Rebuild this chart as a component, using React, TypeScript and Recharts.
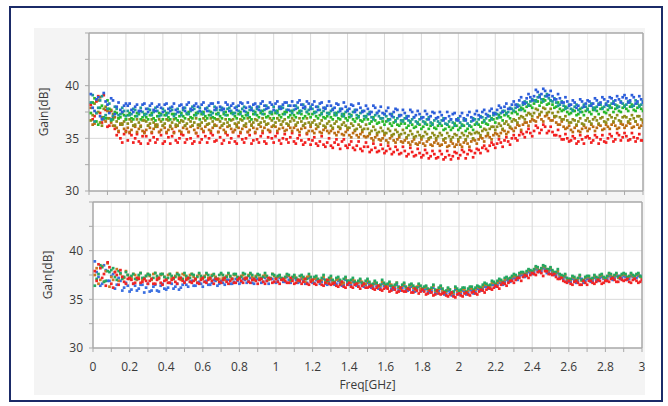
import React from "react";
import {
  ScatterChart,
  Scatter,
  XAxis,
  YAxis,
  CartesianGrid,
  ReferenceLine,
} from "recharts";

// Frequency sweep grids (GHz): sweep A starts at 0.01, sweep B at 0.02, both every 0.02 GHz
const SWEEP_A_START = 0.01;
const SWEEP_B_START = 0.02;
const SWEEP_STEP = 0.02;

const X_TICKS = [
  0, 0.1, 0.2, 0.3, 0.4, 0.5, 0.6, 0.7, 0.8, 0.9, 1, 1.1, 1.2, 1.3, 1.4, 1.5,
  1.6, 1.7, 1.8, 1.9, 2, 2.1, 2.2, 2.3, 2.4, 2.5, 2.6, 2.7, 2.8, 2.9, 3,
];
const X_LABELS = [0, 0.2, 0.4, 0.6, 0.8, 1, 1.2, 1.4, 1.6, 1.8, 2, 2.2, 2.4, 2.6, 2.8, 3];
const X_MINOR = [0.1, 0.3, 0.5, 0.7, 0.9, 1.1, 1.3, 1.5, 1.7, 1.9, 2.1, 2.3, 2.5, 2.7, 2.9];
const X_MAJOR = [0.2, 0.4, 0.6, 0.8, 1, 1.2, 1.4, 1.6, 1.8, 2, 2.2, 2.4, 2.6, 2.8];
const Y_TICKS = [30, 32.5, 35, 37.5, 40, 42.5, 45];
const Y_LABELS = [30, 35, 40];
const Y_MINOR = [32.5, 37.5, 42.5];
const Y_MAJOR = [35, 40];

// ================= Upper panel: gain [dB] =================
const TOP_BLUE_A = [
  39.2, 37.6, 38.9, 36.8, 38.5, 37.4, 38.6, 38.0, 37.7, 38.1,
  38.1, 37.7, 38.0, 37.6, 38.2, 37.8, 38.1, 37.7, 38.0, 37.9,
  38.2, 37.8, 38.0, 37.7, 38.1, 37.9, 38.2, 37.8, 38.1, 38.0,
  38.2, 37.8, 38.1, 38.3, 37.9, 38.0, 37.8, 38.2, 38.1, 37.9,
  38.1, 38.3, 37.9, 38.0, 38.2, 38.0, 38.3, 38.1, 37.9, 38.2,
  38.3, 38.0, 38.2, 38.4, 38.1, 38.1, 38.4, 38.2, 38.0, 38.3,
  38.2, 38.0, 38.3, 37.9, 38.1, 38.1, 37.9, 38.2, 37.8, 38.0,
  37.8, 38.1, 37.7, 37.9, 37.6, 37.8, 37.5, 37.9, 37.6, 37.4,
  37.6, 37.3, 37.5, 37.7, 37.2, 37.4, 37.1, 37.5, 37.2, 37.3,
  37.0, 37.3, 37.1, 37.4, 37.0, 37.2, 36.9, 37.1, 37.3, 36.8,
  37.1, 36.9, 37.2, 37.0, 37.3, 37.2, 37.5, 37.3, 37.6, 37.4,
  37.7, 37.9, 38.0, 37.8, 38.2, 38.2, 38.6, 38.4, 38.8, 38.9,
  39.0, 39.4, 39.2, 39.5, 39.1, 39.0, 38.7, 38.8, 38.4, 38.5,
  38.2, 38.4, 38.1, 38.5, 38.3, 38.5, 38.3, 38.6, 38.4, 38.7,
  38.5, 38.8, 38.6, 38.7, 38.9, 38.8, 38.6, 38.9, 38.5, 38.7,
];
const TOP_BLUE_B = [
  37.9, 38.7, 37.1, 39.3, 38.2, 38.8, 37.3, 38.4, 37.5, 38.3,
  38.3, 37.5, 38.2, 37.6, 38.3, 37.5, 38.3, 37.6, 38.2, 37.5,
  38.3, 37.6, 38.3, 37.5, 38.2, 37.6, 38.4, 37.7, 38.3, 37.6,
  38.4, 37.6, 38.3, 37.7, 38.4, 37.7, 38.4, 37.6, 38.3, 37.7,
  38.4, 37.6, 38.4, 37.7, 38.3, 37.7, 38.5, 37.8, 38.4, 37.7,
  38.5, 37.8, 38.4, 37.7, 38.5, 37.8, 38.6, 37.9, 38.5, 37.8,
  38.5, 37.7, 38.4, 37.8, 38.5, 37.7, 38.3, 37.6, 38.4, 37.6,
  38.2, 37.5, 38.3, 37.5, 38.1, 37.3, 38.1, 37.4, 38.0, 37.3,
  37.9, 37.1, 37.8, 37.1, 37.7, 36.9, 37.7, 37.0, 37.6, 36.9,
  37.6, 36.8, 37.5, 36.9, 37.5, 36.7, 37.5, 36.8, 37.4, 36.7,
  37.4, 36.7, 37.5, 36.7, 37.6, 37.0, 37.7, 37.1, 37.8, 37.3,
  38.1, 37.5, 38.3, 37.8, 38.5, 38.0, 38.9, 38.3, 39.2, 38.6,
  39.6, 38.9, 39.7, 39.0, 39.5, 38.7, 39.2, 38.4, 38.9, 38.1,
  38.6, 37.9, 38.7, 38.0, 38.6, 38.1, 38.8, 38.2, 38.9, 38.2,
  38.9, 38.3, 39.0, 38.4, 39.1, 38.4, 39.1, 38.3, 39.0, 38.4,
];
const TOP_TEAL_A = [
  38.4, 36.6, 37.9, 39.0, 37.2, 38.3, 37.1, 37.8, 37.3, 37.6,
  37.6, 37.3, 37.7, 37.4, 37.5, 37.3, 37.7, 37.5, 37.6, 37.2,
  37.6, 37.4, 37.7, 37.3, 37.5, 37.7, 37.4, 37.6, 37.8, 37.5,
  37.5, 37.8, 37.6, 37.4, 37.7, 37.7, 37.5, 37.8, 37.6, 37.4,
  37.6, 37.8, 37.5, 37.7, 37.6, 37.8, 37.6, 37.7, 37.9, 37.5,
  37.6, 37.8, 37.9, 37.7, 37.6, 37.7, 37.9, 37.6, 37.8, 37.7,
  37.8, 37.5, 37.7, 37.6, 37.4, 37.6, 37.4, 37.5, 37.3, 37.5,
  37.3, 37.5, 37.2, 37.4, 37.1, 37.3, 37.0, 37.2, 37.1, 36.9,
  37.1, 36.8, 37.0, 36.9, 36.7, 36.9, 36.7, 36.8, 36.6, 36.8,
  36.6, 36.8, 36.5, 36.7, 36.6, 36.7, 36.4, 36.6, 36.5, 36.7,
  36.5, 36.7, 36.4, 36.6, 36.8, 36.8, 37.0, 36.9, 37.1, 37.2,
  37.3, 37.4, 37.6, 37.5, 37.8, 37.9, 38.1, 38.2, 38.4, 38.5,
  38.6, 38.9, 38.7, 39.0, 38.8, 38.5, 38.4, 38.2, 38.1, 37.9,
  37.8, 38.0, 37.7, 37.9, 38.0, 38.1, 37.9, 38.0, 38.2, 38.0,
  38.1, 38.3, 38.2, 38.0, 38.3, 38.2, 38.4, 38.1, 38.3, 38.2,
];
const TOP_TEAL_B = [
  39.1, 37.4, 38.6, 36.9, 37.8, 36.8, 38.0, 37.2, 37.9, 37.1,
  37.2, 37.8, 37.1, 37.9, 37.2, 37.8, 37.2, 37.9, 37.1, 37.8,
  37.2, 37.9, 37.1, 37.8, 37.2, 37.9, 37.3, 38.0, 37.2, 37.9,
  37.3, 37.9, 37.2, 38.0, 37.3, 37.9, 37.2, 37.9, 37.3, 38.0,
  37.3, 38.0, 37.2, 37.9, 37.3, 38.0, 37.3, 38.1, 37.4, 38.0,
  37.4, 38.0, 37.3, 38.1, 37.4, 38.1, 37.4, 38.2, 37.5, 38.0,
  37.4, 38.0, 37.3, 37.9, 37.3, 37.8, 37.2, 37.8, 37.1, 37.7,
  37.1, 37.7, 37.0, 37.6, 37.0, 37.5, 36.8, 37.4, 36.9, 37.3,
  36.7, 37.3, 36.6, 37.2, 36.6, 37.1, 36.5, 37.0, 36.4, 37.0,
  36.4, 37.0, 36.3, 36.9, 36.4, 36.9, 36.3, 36.8, 36.2, 36.9,
  36.2, 36.8, 36.2, 36.9, 36.4, 37.1, 36.6, 37.2, 36.8, 37.4,
  37.0, 37.6, 37.3, 37.9, 37.6, 38.2, 37.7, 38.5, 38.1, 38.7,
  38.5, 39.1, 38.5, 39.2, 38.6, 38.8, 38.1, 38.5, 37.8, 38.2,
  37.6, 38.2, 37.5, 38.2, 37.7, 38.3, 37.7, 38.3, 37.8, 38.3,
  37.9, 38.5, 37.9, 38.5, 38.0, 38.5, 38.0, 38.6, 38.0, 38.5,
];
const TOP_GREEN_A = [
  37.4, 38.8, 36.3, 38.1, 36.9, 37.8, 36.8, 37.4, 37.0, 37.2,
  37.2, 36.9, 37.1, 37.3, 37.0, 37.0, 37.2, 36.9, 37.1, 37.3,
  37.2, 37.0, 37.3, 36.9, 37.1, 37.1, 37.3, 37.0, 37.2, 37.4,
  37.3, 37.1, 37.2, 37.0, 37.3, 37.1, 37.3, 37.2, 37.4, 37.1,
  37.3, 37.1, 37.2, 37.0, 37.3, 37.2, 37.4, 37.3, 37.1, 37.3,
  37.4, 37.2, 37.3, 37.5, 37.2, 37.2, 37.4, 37.3, 37.1, 37.3,
  37.3, 37.1, 37.2, 37.0, 37.1, 37.0, 37.2, 36.9, 37.1, 36.9,
  37.0, 36.8, 36.9, 36.7, 36.8, 36.8, 36.6, 36.7, 36.5, 36.6,
  36.6, 36.4, 36.5, 36.3, 36.4, 36.4, 36.2, 36.3, 36.1, 36.3,
  36.1, 36.3, 36.2, 36.0, 36.2, 36.2, 35.9, 36.1, 36.0, 36.2,
  36.0, 36.2, 35.9, 36.1, 36.3, 36.3, 36.5, 36.4, 36.7, 36.8,
  36.9, 37.0, 37.2, 37.1, 37.4, 37.5, 37.7, 37.8, 38.0, 38.1,
  38.3, 38.5, 38.4, 38.6, 38.3, 38.2, 38.0, 37.8, 37.7, 37.5,
  37.4, 37.6, 37.3, 37.5, 37.6, 37.5, 37.7, 37.6, 37.8, 37.5,
  37.7, 37.9, 37.8, 37.6, 37.9, 37.8, 38.0, 37.7, 37.9, 37.8,
];
const TOP_GREEN_B = [
  38.4, 36.6, 37.9, 37.0, 38.6, 36.7, 37.5, 36.9, 37.4, 36.8,
  37.4, 36.8, 37.4, 36.8, 37.3, 36.8, 37.4, 36.7, 37.4, 36.8,
  37.4, 36.8, 37.3, 36.7, 37.4, 36.9, 37.5, 36.9, 37.4, 36.8,
  37.5, 36.9, 37.5, 36.9, 37.4, 36.9, 37.5, 36.8, 37.4, 36.9,
  37.5, 36.9, 37.4, 36.8, 37.5, 37.0, 37.6, 37.0, 37.5, 36.9,
  37.6, 37.0, 37.5, 37.0, 37.6, 37.0, 37.6, 36.9, 37.5, 37.0,
  37.5, 36.9, 37.4, 36.9, 37.4, 36.8, 37.4, 36.8, 37.3, 36.7,
  37.2, 36.6, 37.1, 36.6, 37.1, 36.4, 37.0, 36.4, 36.9, 36.3,
  36.8, 36.2, 36.7, 36.2, 36.7, 36.0, 36.6, 36.0, 36.5, 35.9,
  36.5, 35.9, 36.4, 35.9, 36.4, 35.8, 36.3, 35.8, 36.4, 35.8,
  36.3, 35.7, 36.2, 35.8, 36.5, 36.1, 36.7, 36.3, 36.9, 36.5,
  37.2, 36.7, 37.4, 36.9, 37.6, 37.3, 37.9, 37.6, 38.2, 37.9,
  38.6, 38.1, 38.7, 38.2, 38.6, 37.9, 38.4, 37.6, 38.0, 37.3,
  37.7, 37.2, 37.8, 37.2, 37.8, 37.3, 37.9, 37.3, 37.9, 37.4,
  38.1, 37.5, 38.1, 37.5, 38.1, 37.6, 38.2, 37.6, 38.1, 37.6,
];
const TOP_OLIVE_A = [
  36.7, 38.3, 37.5, 36.2, 38.0, 36.9, 37.3, 36.6, 36.4, 36.6,
  36.4, 36.6, 36.3, 36.5, 36.7, 36.6, 36.4, 36.5, 36.3, 36.6,
  36.4, 36.7, 36.5, 36.3, 36.5, 36.6, 36.4, 36.6, 36.5, 36.3,
  36.5, 36.7, 36.4, 36.6, 36.8, 36.6, 36.4, 36.5, 36.7, 36.4,
  36.5, 36.7, 36.4, 36.6, 36.5, 36.7, 36.5, 36.6, 36.4, 36.7,
  36.5, 36.7, 36.6, 36.4, 36.6, 36.7, 36.5, 36.6, 36.4, 36.5,
  36.5, 36.3, 36.4, 36.2, 36.4, 36.2, 36.4, 36.1, 36.3, 36.2,
  36.0, 36.2, 35.9, 36.1, 35.9, 35.9, 35.7, 35.8, 35.6, 35.7,
  35.5, 35.7, 35.4, 35.6, 35.4, 35.5, 35.3, 35.4, 35.2, 35.3,
  35.2, 35.4, 35.1, 35.3, 35.2, 35.3, 35.0, 35.2, 35.1, 35.3,
  35.1, 35.3, 35.2, 35.4, 35.5, 35.5, 35.7, 35.8, 35.9, 36.1,
  36.1, 36.2, 36.4, 36.3, 36.6, 36.7, 36.9, 37.0, 37.2, 37.3,
  37.4, 37.7, 37.5, 37.8, 37.5, 37.4, 37.1, 37.0, 36.8, 36.7,
  36.5, 36.7, 36.6, 36.4, 36.7, 36.6, 36.8, 36.7, 36.9, 36.6,
  36.8, 37.0, 36.9, 36.7, 37.0, 37.0, 36.8, 36.9, 37.1, 36.8,
];
const TOP_OLIVE_B = [
  37.2, 38.7, 36.5, 37.8, 36.9, 37.7, 36.2, 36.9, 36.3, 36.8,
  36.8, 36.2, 36.8, 36.1, 36.7, 36.2, 36.8, 36.1, 36.8, 36.2,
  36.8, 36.1, 36.8, 36.2, 36.7, 36.2, 36.8, 36.2, 36.9, 36.2,
  36.9, 36.3, 36.9, 36.2, 36.8, 36.2, 36.8, 36.2, 36.8, 36.1,
  36.8, 36.2, 36.9, 36.2, 36.8, 36.3, 36.9, 36.3, 36.9, 36.2,
  36.9, 36.3, 36.8, 36.3, 36.9, 36.3, 36.9, 36.2, 36.9, 36.3,
  36.7, 36.1, 36.7, 36.1, 36.6, 36.0, 36.6, 36.0, 36.5, 36.0,
  36.4, 35.8, 36.3, 35.8, 36.3, 35.5, 36.1, 35.5, 36.0, 35.5,
  35.9, 35.3, 35.8, 35.3, 35.8, 35.1, 35.7, 35.1, 35.6, 35.1,
  35.6, 35.0, 35.5, 35.0, 35.5, 34.9, 35.5, 34.9, 35.4, 34.9,
  35.5, 34.9, 35.5, 35.0, 35.6, 35.3, 35.9, 35.5, 36.1, 35.8,
  36.4, 35.9, 36.6, 36.1, 36.8, 36.5, 37.1, 36.8, 37.4, 37.1,
  37.8, 37.3, 37.9, 37.4, 37.8, 37.1, 37.5, 36.8, 37.1, 36.5,
  36.8, 36.3, 36.9, 36.3, 36.9, 36.4, 37.0, 36.4, 37.0, 36.5,
  37.2, 36.6, 37.2, 36.6, 37.1, 36.6, 37.2, 36.6, 37.1, 36.7,
];
const TOP_BROWN_A = [
  37.9, 36.4, 38.6, 37.0, 36.6, 37.5, 36.2, 36.0, 36.3, 35.9,
  36.0, 35.8, 36.1, 35.9, 35.7, 35.8, 36.0, 35.9, 36.1, 35.8,
  36.0, 35.8, 35.9, 36.1, 35.7, 36.0, 35.9, 36.1, 35.8, 36.0,
  35.9, 36.1, 35.8, 36.0, 36.2, 36.0, 35.8, 36.1, 35.9, 35.8,
  36.0, 35.9, 36.1, 35.8, 36.0, 35.9, 36.1, 36.0, 35.8, 36.1,
  36.1, 35.9, 36.0, 35.8, 36.0, 36.0, 35.8, 35.9, 36.0, 35.7,
  35.7, 35.9, 35.6, 35.8, 35.7, 35.7, 35.5, 35.6, 35.4, 35.6,
  35.3, 35.5, 35.3, 35.4, 35.2, 35.2, 35.0, 35.1, 34.9, 35.0,
  34.8, 35.0, 34.8, 34.9, 34.7, 34.8, 34.6, 34.7, 34.5, 34.6,
  34.5, 34.7, 34.4, 34.6, 34.5, 34.4, 34.6, 34.3, 34.5, 34.4,
  34.4, 34.6, 34.5, 34.7, 34.8, 34.9, 35.0, 35.2, 35.1, 35.3,
  35.4, 35.5, 35.7, 35.6, 35.9, 36.0, 36.2, 36.3, 36.5, 36.6,
  36.7, 37.0, 36.8, 37.1, 36.9, 36.7, 36.5, 36.3, 36.1, 36.0,
  35.8, 36.0, 35.7, 35.9, 36.0, 35.9, 36.1, 36.0, 36.2, 35.9,
  36.1, 36.3, 36.2, 36.0, 36.3, 36.2, 36.4, 36.1, 36.3, 36.2,
];
const TOP_BROWN_B = [
  36.3, 37.4, 38.9, 36.8, 37.6, 36.5, 37.0, 35.7, 36.4, 35.6,
  35.6, 36.2, 35.6, 36.2, 35.5, 36.2, 35.6, 36.3, 35.6, 36.2,
  35.6, 36.2, 35.5, 36.2, 35.6, 36.2, 35.6, 36.2, 35.5, 36.3,
  35.7, 36.3, 35.7, 36.3, 35.6, 36.2, 35.6, 36.2, 35.6, 36.3,
  35.6, 36.2, 35.6, 36.3, 35.6, 36.3, 35.7, 36.3, 35.7, 36.2,
  35.7, 36.3, 35.7, 36.2, 35.7, 36.2, 35.6, 36.2, 35.5, 36.1,
  35.5, 36.1, 35.5, 36.0, 35.5, 35.9, 35.3, 35.9, 35.3, 35.8,
  35.1, 35.7, 35.1, 35.6, 35.1, 35.4, 34.8, 35.3, 34.8, 35.3,
  34.6, 35.2, 34.6, 35.1, 34.6, 35.0, 34.4, 34.9, 34.4, 34.9,
  34.3, 34.9, 34.3, 34.8, 34.3, 34.8, 34.2, 34.7, 34.2, 34.7,
  34.2, 34.8, 34.2, 34.9, 34.5, 35.1, 34.7, 35.3, 34.9, 35.5,
  35.2, 35.8, 35.4, 36.0, 35.7, 36.3, 35.8, 36.5, 36.2, 36.8,
  36.6, 37.2, 36.6, 37.2, 36.7, 37.0, 36.3, 36.6, 35.9, 36.2,
  35.6, 36.2, 35.6, 36.2, 35.7, 36.3, 35.7, 36.3, 35.8, 36.3,
  35.9, 36.5, 35.9, 36.4, 36.0, 36.5, 36.0, 36.6, 36.0, 36.5,
];
const TOP_RED_A = [
  38.2, 37.1, 39.0, 36.5, 37.7, 36.2, 37.0, 35.3, 35.0, 35.4,
  34.8, 35.3, 35.0, 34.7, 35.2, 35.2, 34.8, 35.1, 34.9, 35.3,
  34.7, 35.1, 35.2, 34.8, 35.0, 35.3, 34.9, 35.0, 34.7, 35.2,
  34.9, 35.2, 35.0, 35.3, 34.8, 35.1, 34.8, 35.3, 35.0, 34.7,
  35.2, 34.9, 35.0, 35.3, 34.8, 34.9, 35.2, 34.7, 35.1, 35.0,
  35.2, 34.8, 35.0, 34.9, 35.1, 34.7, 35.0, 34.8, 34.6, 34.9,
  34.8, 34.5, 34.7, 34.4, 34.6, 34.3, 34.6, 34.4, 34.7, 34.3,
  34.4, 34.1, 34.3, 34.0, 34.2, 34.2, 33.9, 34.1, 33.8, 34.0,
  33.8, 34.0, 33.7, 33.9, 33.6, 33.8, 33.5, 33.7, 33.4, 33.6,
  33.4, 33.6, 33.3, 33.5, 33.2, 33.5, 33.2, 33.4, 33.3, 33.6,
  33.4, 33.7, 33.5, 33.8, 33.6, 33.9, 34.1, 34.0, 34.3, 34.4,
  34.5, 34.6, 34.8, 34.7, 35.0, 35.0, 35.3, 35.4, 35.6, 35.5,
  35.7, 36.0, 35.8, 36.1, 35.7, 35.6, 35.3, 35.2, 34.9, 35.0,
  34.8, 35.0, 34.7, 34.9, 35.1, 35.0, 34.8, 35.1, 34.9, 34.7,
  35.0, 35.2, 34.9, 35.3, 35.1, 35.2, 34.9, 35.1, 35.0, 34.8,
];
const TOP_RED_B = [
  36.8, 38.5, 37.4, 39.1, 36.1, 37.6, 35.9, 35.6, 34.6, 35.7,
  35.5, 34.6, 35.4, 34.5, 35.6, 34.5, 35.5, 34.6, 35.6, 34.5,
  35.5, 34.5, 35.6, 34.6, 35.4, 34.6, 35.6, 34.5, 35.5, 34.6,
  35.6, 34.6, 35.5, 34.7, 35.6, 34.5, 35.5, 34.6, 35.6, 34.5,
  35.5, 34.6, 35.6, 34.5, 35.5, 34.6, 35.5, 34.5, 35.6, 34.6,
  35.5, 34.5, 35.4, 34.6, 35.5, 34.5, 35.3, 34.4, 35.4, 34.4,
  35.1, 34.3, 35.2, 34.2, 35.0, 34.1, 34.9, 34.0, 34.9, 34.1,
  34.7, 33.9, 34.7, 33.8, 34.6, 33.7, 34.5, 33.7, 34.4, 33.6,
  34.3, 33.5, 34.2, 33.5, 34.2, 33.3, 34.1, 33.3, 34.0, 33.2,
  33.9, 33.1, 33.8, 33.1, 33.8, 33.0, 33.8, 33.0, 33.7, 33.1,
  33.9, 33.1, 33.9, 33.2, 34.0, 33.6, 34.3, 33.8, 34.6, 34.1,
  34.9, 34.2, 35.1, 34.4, 35.3, 34.8, 35.6, 35.1, 35.9, 35.2,
  36.2, 35.5, 36.3, 35.5, 36.1, 35.3, 35.8, 34.9, 35.4, 34.7,
  35.2, 34.5, 35.3, 34.5, 35.2, 34.6, 35.3, 34.5, 35.3, 34.6,
  35.4, 34.7, 35.5, 34.8, 35.5, 34.8, 35.5, 34.7, 35.4, 34.8,
];

// ================= Lower panel: gain [dB] =================
const BOT_BLUE_A = [
  38.9, 37.3, 36.6, 38.0, 36.9, 37.6, 36.5, 36.9, 36.2, 36.4,
  36.0, 36.4, 36.1, 36.5, 36.2, 35.8, 36.3, 35.9, 36.4, 36.1,
  36.2, 36.6, 36.3, 36.0, 36.5, 36.5, 36.8, 36.4, 36.7, 36.6,
  36.8, 36.5, 36.7, 36.9, 36.6, 36.7, 37.0, 36.6, 36.8, 36.9,
  36.8, 37.0, 36.9, 36.7, 37.0, 37.0, 36.8, 36.9, 37.1, 36.8,
  36.9, 37.1, 36.8, 37.0, 37.1, 37.0, 36.8, 36.9, 36.7, 37.0,
  36.7, 36.9, 36.8, 36.6, 36.8, 36.8, 36.6, 36.7, 36.5, 36.7,
  36.5, 36.7, 36.4, 36.6, 36.5, 36.5, 36.3, 36.4, 36.2, 36.4,
  36.3, 36.1, 36.2, 36.0, 36.2, 36.0, 36.2, 35.9, 36.1, 36.0,
  36.0, 35.8, 35.9, 35.7, 35.9, 35.8, 35.6, 35.7, 35.5, 35.8,
  35.6, 35.8, 35.7, 35.9, 35.8, 36.0, 36.1, 36.3, 36.2, 36.5,
  36.5, 36.7, 36.8, 36.9, 37.1, 37.2, 37.4, 37.5, 37.6, 37.7,
  37.8, 38.0, 37.9, 38.1, 37.8, 37.7, 37.5, 37.3, 37.1, 36.9,
  36.8, 37.0, 36.9, 37.1, 36.9, 37.1, 36.9, 37.0, 37.2, 37.1,
  37.1, 37.3, 37.2, 37.4, 37.2, 37.3, 37.1, 37.3, 37.2, 37.4,
];
const BOT_BLUE_B = [
  37.8, 36.4, 38.5, 36.9, 37.4, 36.1, 37.2, 35.9, 36.7, 35.8,
  36.6, 35.9, 36.5, 35.7, 36.6, 35.9, 36.5, 35.8, 36.6, 36.0,
  36.7, 36.1, 36.6, 36.2, 36.8, 36.3, 36.9, 36.4, 36.8, 36.3,
  36.9, 36.5, 37.0, 36.4, 36.9, 36.5, 37.0, 36.6, 37.1, 36.6,
  37.1, 36.7, 37.2, 36.6, 37.1, 36.7, 37.2, 36.6, 37.1, 36.7,
  37.2, 36.8, 37.3, 36.7, 37.2, 36.7, 37.1, 36.6, 37.2, 36.7,
  37.0, 36.6, 37.1, 36.5, 37.0, 36.5, 36.9, 36.4, 37.0, 36.5,
  36.8, 36.4, 36.8, 36.3, 36.7, 36.2, 36.6, 36.1, 36.6, 36.2,
  36.4, 36.0, 36.5, 35.9, 36.4, 35.9, 36.3, 35.8, 36.3, 35.9,
  36.1, 35.7, 36.2, 35.6, 36.1, 35.5, 35.9, 35.4, 36.0, 35.5,
  35.9, 35.5, 36.0, 35.6, 36.1, 35.9, 36.3, 36.1, 36.5, 36.3,
  36.7, 36.5, 37.0, 36.8, 37.2, 37.0, 37.5, 37.3, 37.8, 37.6,
  38.1, 37.8, 38.2, 37.7, 38.0, 37.5, 37.7, 37.2, 37.3, 36.8,
  37.1, 36.7, 37.2, 36.7, 37.1, 36.8, 37.2, 36.9, 37.3, 36.9,
  37.4, 37.0, 37.4, 37.1, 37.4, 37.0, 37.4, 37.1, 37.4, 37.0,
];
const BOT_ORANGE_A = [
  37.5, 36.6, 38.4, 37.9, 36.3, 37.0, 38.1, 37.6, 37.2, 37.5,
  37.2, 37.5, 37.3, 37.0, 37.4, 37.4, 37.6, 37.2, 37.5, 37.3,
  37.5, 37.2, 37.4, 37.3, 37.6, 37.2, 37.5, 37.3, 37.4, 37.2,
  37.4, 37.2, 37.5, 37.3, 37.1, 37.2, 37.4, 37.3, 37.5, 37.2,
  37.4, 37.2, 37.5, 37.3, 37.4, 37.2, 37.4, 37.3, 37.1, 37.4,
  37.3, 37.1, 37.2, 37.4, 37.2, 37.2, 37.0, 37.1, 37.3, 37.0,
  37.1, 36.9, 37.0, 36.8, 37.0, 36.8, 37.0, 36.9, 36.7, 36.9,
  36.7, 36.9, 36.7, 36.8, 36.6, 36.7, 36.5, 36.6, 36.4, 36.6,
  36.3, 36.5, 36.4, 36.2, 36.4, 36.2, 36.4, 36.2, 36.3, 36.1,
  36.2, 36.0, 36.1, 35.9, 36.1, 35.9, 35.8, 36.0, 35.7, 35.9,
  35.8, 36.0, 35.9, 36.1, 36.0, 36.2, 36.3, 36.5, 36.4, 36.7,
  36.7, 36.9, 37.0, 37.1, 37.3, 37.4, 37.6, 37.7, 37.8, 37.9,
  38.0, 38.2, 38.1, 38.3, 38.0, 37.9, 37.7, 37.5, 37.3, 37.1,
  37.0, 37.2, 37.1, 36.9, 37.2, 37.3, 37.1, 37.2, 37.4, 37.2,
  37.3, 37.5, 37.4, 37.2, 37.5, 37.5, 37.3, 37.4, 37.5, 37.3,
];
const BOT_ORANGE_B = [
  38.2, 37.0, 36.8, 38.7, 37.3, 37.8, 36.9, 37.3, 37.9, 37.1,
  37.6, 37.0, 37.7, 37.1, 37.6, 37.0, 37.7, 37.1, 37.6, 37.0,
  37.6, 37.1, 37.7, 37.0, 37.5, 37.1, 37.6, 37.0, 37.6, 37.1,
  37.6, 37.1, 37.5, 37.0, 37.6, 37.0, 37.6, 37.1, 37.5, 37.1,
  37.5, 37.1, 37.6, 37.0, 37.5, 37.1, 37.5, 37.0, 37.6, 37.1,
  37.4, 37.0, 37.5, 36.9, 37.4, 36.9, 37.3, 36.8, 37.4, 36.9,
  37.2, 36.8, 37.3, 36.7, 37.2, 36.7, 37.1, 36.6, 37.2, 36.7,
  37.0, 36.6, 37.0, 36.5, 36.9, 36.4, 36.8, 36.3, 36.8, 36.4,
  36.6, 36.2, 36.7, 36.1, 36.6, 36.1, 36.5, 36.0, 36.5, 36.1,
  36.3, 35.9, 36.4, 35.8, 36.3, 35.7, 36.1, 35.6, 36.2, 35.7,
  36.1, 35.7, 36.2, 35.8, 36.3, 36.1, 36.5, 36.3, 36.7, 36.5,
  36.9, 36.7, 37.2, 37.0, 37.4, 37.2, 37.7, 37.5, 38.0, 37.8,
  38.3, 37.9, 38.4, 37.9, 38.2, 37.7, 37.9, 37.4, 37.5, 37.0,
  37.3, 36.9, 37.4, 36.9, 37.3, 37.0, 37.4, 37.1, 37.5, 37.1,
  37.6, 37.2, 37.6, 37.3, 37.6, 37.2, 37.6, 37.3, 37.6, 37.2,
];
const BOT_GREEN_A = [
  36.4, 37.6, 38.3, 36.9, 37.8, 38.2, 37.0, 37.7, 37.3, 37.5,
  37.4, 37.1, 37.5, 37.2, 37.4, 37.5, 37.2, 37.4, 37.6, 37.3,
  37.2, 37.4, 37.3, 37.5, 37.1, 37.4, 37.2, 37.5, 37.3, 37.4,
  37.3, 37.5, 37.4, 37.2, 37.5, 37.5, 37.3, 37.4, 37.6, 37.3,
  37.3, 37.6, 37.4, 37.5, 37.3, 37.5, 37.3, 37.4, 37.2, 37.5,
  37.4, 37.2, 37.3, 37.5, 37.3, 37.2, 37.4, 37.3, 37.1, 37.3,
  37.3, 37.1, 37.2, 37.0, 37.2, 37.0, 37.2, 37.0, 37.1, 36.9,
  37.0, 36.8, 36.9, 36.7, 36.9, 36.8, 36.6, 36.7, 36.5, 36.7,
  36.6, 36.4, 36.5, 36.3, 36.5, 36.3, 36.5, 36.4, 36.2, 36.4,
  36.3, 36.1, 36.2, 36.0, 36.2, 36.1, 35.9, 36.0, 35.8, 36.1,
  36.0, 36.2, 36.1, 36.3, 36.2, 36.3, 36.5, 36.6, 36.5, 36.8,
  36.9, 37.0, 37.2, 37.1, 37.4, 37.5, 37.7, 37.8, 37.9, 38.0,
  38.1, 38.3, 38.2, 38.4, 38.1, 38.0, 37.8, 37.6, 37.4, 37.2,
  37.1, 37.3, 37.2, 37.0, 37.3, 37.4, 37.2, 37.3, 37.5, 37.3,
  37.4, 37.6, 37.5, 37.3, 37.6, 37.6, 37.4, 37.5, 37.6, 37.4,
];
const BOT_GREEN_B = [
  37.1, 38.5, 36.8, 37.9, 38.0, 37.3, 37.9, 37.1, 37.8, 37.2,
  37.6, 37.1, 37.7, 37.2, 37.6, 37.1, 37.7, 37.2, 37.6, 37.1,
  37.6, 37.1, 37.6, 37.2, 37.7, 37.2, 37.6, 37.1, 37.7, 37.2,
  37.7, 37.2, 37.6, 37.1, 37.7, 37.2, 37.7, 37.1, 37.6, 37.2,
  37.7, 37.2, 37.7, 37.1, 37.6, 37.2, 37.7, 37.1, 37.6, 37.2,
  37.5, 37.1, 37.6, 37.0, 37.5, 37.0, 37.5, 37.1, 37.6, 37.0,
  37.4, 36.9, 37.5, 36.9, 37.4, 36.8, 37.3, 36.8, 37.3, 36.9,
  37.2, 36.7, 37.1, 36.6, 37.1, 36.5, 36.9, 36.4, 37.0, 36.5,
  36.8, 36.3, 36.7, 36.2, 36.7, 36.1, 36.6, 36.2, 36.6, 36.1,
  36.4, 36.0, 36.5, 35.9, 36.4, 35.8, 36.2, 35.7, 36.3, 35.9,
  36.2, 35.8, 36.3, 36.0, 36.4, 36.2, 36.7, 36.4, 36.9, 36.6,
  37.1, 36.8, 37.3, 37.2, 37.6, 37.3, 37.8, 37.6, 38.1, 37.9,
  38.4, 38.0, 38.5, 38.1, 38.3, 37.8, 38.1, 37.5, 37.6, 37.1,
  37.4, 37.0, 37.5, 37.0, 37.4, 37.1, 37.5, 37.2, 37.6, 37.2,
  37.7, 37.3, 37.7, 37.4, 37.7, 37.3, 37.7, 37.4, 37.7, 37.3,
];
const BOT_RED_A = [
  37.9, 38.6, 37.2, 36.4, 38.3, 36.2, 37.5, 38.0, 36.8, 37.1,
  37.0, 36.7, 37.1, 36.8, 36.9, 36.9, 36.6, 37.0, 36.7, 36.9,
  36.7, 37.0, 36.8, 37.1, 36.9, 37.0, 36.8, 36.9, 36.7, 37.0,
  36.8, 37.0, 36.9, 37.1, 36.8, 37.0, 36.8, 36.9, 36.7, 37.0,
  36.9, 37.1, 36.8, 37.0, 36.9, 37.0, 36.8, 36.9, 37.1, 36.8,
  36.8, 37.0, 36.9, 36.7, 36.9, 36.7, 36.9, 36.8, 36.6, 36.8,
  36.6, 36.8, 36.5, 36.7, 36.6, 36.6, 36.4, 36.5, 36.3, 36.5,
  36.3, 36.5, 36.3, 36.4, 36.2, 36.3, 36.1, 36.2, 36.0, 36.1,
  36.1, 35.9, 36.0, 35.8, 35.9, 35.8, 36.0, 35.7, 35.9, 35.8,
  35.8, 35.6, 35.7, 35.5, 35.6, 35.6, 35.4, 35.5, 35.3, 35.5,
  35.4, 35.6, 35.5, 35.7, 35.6, 35.8, 35.9, 36.0, 36.1, 36.2,
  36.3, 36.5, 36.6, 36.7, 36.9, 37.0, 37.2, 37.3, 37.4, 37.5,
  37.6, 37.8, 37.7, 37.9, 37.6, 37.5, 37.3, 37.1, 36.9, 36.7,
  36.6, 36.8, 36.7, 36.5, 36.7, 36.9, 36.7, 36.8, 36.9, 36.7,
  36.9, 37.1, 37.0, 36.8, 37.0, 37.0, 36.8, 37.0, 36.9, 36.8,
];
const BOT_RED_B = [
  36.9, 38.2, 37.6, 38.8, 36.6, 37.8, 36.5, 37.3, 36.6, 37.2,
  36.6, 37.2, 36.7, 37.1, 36.6, 37.1, 36.6, 37.2, 36.5, 37.0,
  36.7, 37.2, 36.6, 37.2, 36.7, 37.2, 36.7, 37.1, 36.6, 37.2,
  36.7, 37.2, 36.6, 37.1, 36.7, 37.2, 36.6, 37.1, 36.7, 37.2,
  36.7, 37.2, 36.7, 37.1, 36.6, 37.1, 36.6, 37.2, 36.7, 37.1,
  36.6, 37.1, 36.7, 37.2, 36.6, 37.0, 36.6, 37.1, 36.5, 37.0,
  36.5, 36.9, 36.4, 37.0, 36.5, 36.7, 36.3, 36.8, 36.2, 36.7,
  36.2, 36.6, 36.1, 36.6, 36.2, 36.4, 36.0, 36.4, 35.9, 36.3,
  35.8, 36.2, 35.7, 36.2, 35.8, 36.1, 35.7, 36.1, 35.6, 36.0,
  35.5, 35.9, 35.4, 35.9, 35.5, 35.7, 35.3, 35.7, 35.2, 35.6,
  35.3, 35.7, 35.4, 35.8, 35.5, 36.0, 35.7, 36.2, 36.0, 36.4,
  36.1, 36.7, 36.4, 36.9, 36.7, 37.2, 36.9, 37.5, 37.2, 37.7,
  37.5, 37.9, 37.4, 37.9, 37.6, 37.6, 37.1, 37.2, 36.8, 36.9,
  36.5, 36.9, 36.5, 36.9, 36.5, 36.9, 36.6, 37.0, 36.6, 36.9,
  36.8, 37.2, 36.8, 37.2, 36.9, 37.1, 36.7, 37.1, 36.7, 37.0,
];

const freqAt = (start: number, i: number) => +(start + i * SWEEP_STEP).toFixed(2);

const toPoints = (a: number[], b: number[]) => [
  ...a.map((g, i) => ({ f: freqAt(SWEEP_A_START, i), g })),
  ...b.map((g, i) => ({ f: freqAt(SWEEP_B_START, i), g })),
];

const TOP_SERIES = [
  { name: "s6", color: "#f21f1f", a: TOP_RED_A, b: TOP_RED_B },
  { name: "s5", color: "#bb6c12", a: TOP_BROWN_A, b: TOP_BROWN_B },
  { name: "s4", color: "#8c8c1a", a: TOP_OLIVE_A, b: TOP_OLIVE_B },
  { name: "s3", color: "#28b828", a: TOP_GREEN_A, b: TOP_GREEN_B },
  { name: "s2", color: "#1f9a98", a: TOP_TEAL_A, b: TOP_TEAL_B },
  { name: "s1", color: "#2c5edb", a: TOP_BLUE_A, b: TOP_BLUE_B },
];
const BOT_SERIES = [
  { name: "b1", color: "#3a6fe0", a: BOT_BLUE_A, b: BOT_BLUE_B },
  { name: "b2", color: "#cc7a22", a: BOT_ORANGE_A, b: BOT_ORANGE_B },
  { name: "b3", color: "#22a862", a: BOT_GREEN_A, b: BOT_GREEN_B },
  { name: "b4", color: "#f22424", a: BOT_RED_A, b: BOT_RED_B },
];

const FONT = "'Open Sans', 'Noto Sans', sans-serif";
const AXIS_COLOR = "#a9a9a9";
const TEXT_COLOR = "#3a3a3a";
const tickStyle = { fill: TEXT_COLOR, fontSize: 12, fontFamily: FONT };

const dot = (color: string) => (p: any) =>
  <rect x={p.cx - 1.35} y={p.cy - 1.35} width={2.7} height={2.7} fill={color} />;

const fmtX = (v: number) => (X_LABELS.includes(v) ? String(v) : "");
const fmtY = (v: number) => (Y_LABELS.includes(v) ? String(v) : "");

function Panel({
  series,
  width,
  height,
  margin,
  yWidth,
  xHeight,
  showXLabels,
  yLabelOffset,
}: any) {
  return (
    <ScatterChart width={width} height={height} margin={margin}>
      <CartesianGrid
        fill="#ffffff"
        stroke="#ececec"
        horizontalValues={Y_MINOR}
        verticalValues={X_MINOR}
      />
      <CartesianGrid
        stroke="#d9d9d9"
        horizontalValues={Y_MAJOR}
        verticalValues={X_MAJOR}
      />
      <ReferenceLine y={45} stroke={AXIS_COLOR} strokeWidth={1.5} />
      <ReferenceLine x={3} stroke={AXIS_COLOR} strokeWidth={1.5} />
      <XAxis
        type="number"
        dataKey="f"
        domain={[0, 3]}
        ticks={X_TICKS}
        interval={0}
        tickFormatter={showXLabels ? fmtX : () => ""}
        tick={tickStyle}
        tickSize={4}
        tickMargin={10}
        height={xHeight}
        stroke={AXIS_COLOR}
        axisLine={{ stroke: AXIS_COLOR, strokeWidth: 1.5 }}
        tickLine={{ stroke: AXIS_COLOR }}
        allowDataOverflow
        label={
          showXLabels
            ? {
                value: "Freq[GHz]",
                position: "insideBottom",
                offset: 6,
                style: { fill: TEXT_COLOR, fontSize: 12, fontFamily: FONT },
              }
            : undefined
        }
      />
      <YAxis
        type="number"
        dataKey="g"
        domain={[30, 45]}
        ticks={Y_TICKS}
        interval={0}
        tickFormatter={fmtY}
        tick={tickStyle}
        tickSize={4}
        tickMargin={6}
        width={yWidth}
        stroke={AXIS_COLOR}
        axisLine={{ stroke: AXIS_COLOR, strokeWidth: 1.5 }}
        tickLine={{ stroke: AXIS_COLOR }}
        allowDataOverflow
        label={{
          value: "Gain[dB]",
          angle: -90,
          position: "insideLeft",
          offset: yLabelOffset,
          textAnchor: "middle",
          style: { fill: TEXT_COLOR, fontSize: 12, fontFamily: FONT, textAnchor: "middle" },
        }}
      />
      {series.map((s: any) => (
        <Scatter
          key={s.name}
          name={s.name}
          data={toPoints(s.a, s.b)}
          fill={s.color}
          shape={dot(s.color)}
          isAnimationActive={false}
        />
      ))}
    </ScatterChart>
  );
}

export default function App() {
  return (
    <>
      <style>{"body{margin:0;}"}</style>
      <div
        style={{
          position: "relative",
          width: 668,
          height: 406,
          background: "#ffffff",
          fontFamily: FONT,
          overflow: "hidden",
        }}
      >
        <div
          style={{
            position: "absolute",
            left: 9,
            top: 6,
            width: 650,
            height: 392,
            border: "2.5px solid #1b2b68",
          }}
        />
        <div
          style={{
            position: "absolute",
            left: 34,
            top: 28,
            width: 611,
            height: 367,
            background: "#f4f4f4",
          }}
        />
        <div style={{ position: "absolute", left: 34, top: 197 }}>
          <Panel
            series={BOT_SERIES}
            width={611}
            height={198}
            margin={{ top: 5, right: 3, left: 0, bottom: 0 }}
            yWidth={59}
            xHeight={47}
            showXLabels={true}
            yLabelOffset={13.5}
          />
        </div>
        <div style={{ position: "absolute", left: 34, top: 28 }}>
          <Panel
            series={TOP_SERIES}
            width={611}
            height={173}
            margin={{ top: 5, right: 2, left: 0, bottom: 0 }}
            yWidth={55}
            xHeight={10}
            showXLabels={false}
            yLabelOffset={10}
          />
        </div>
      </div>
    </>
  );
}
